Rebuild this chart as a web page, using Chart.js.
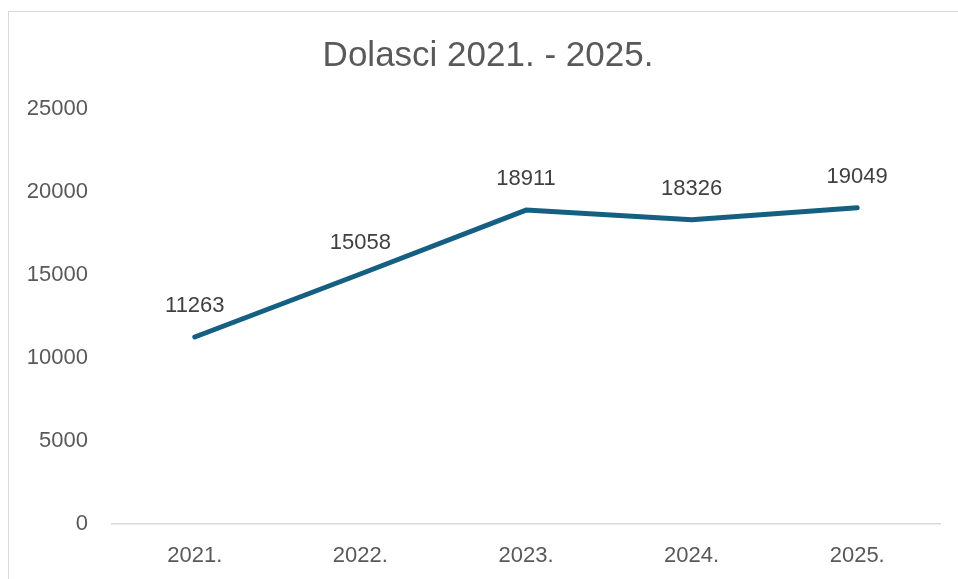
<!DOCTYPE html>
<html>
<head>
<meta charset="utf-8">
<script src="https://cdn.jsdelivr.net/npm/chart.js@4.4.1/dist/chart.umd.min.js"></script>
<style>
  html, body { margin: 0; padding: 0; background: #ffffff; overflow: hidden; }
  #frame { position: absolute; left: 8px; top: 11px; width: 1000px; height: 620px; border: 1px solid #d9d9d9; box-sizing: border-box; }
  #wrap { position: absolute; left: 0; top: 0; width: 958px; height: 579px; }
</style>
</head>
<body>
<div id="frame"></div>
<div id="wrap"><canvas id="c" width="958" height="579"></canvas></div>
<script>
const chartTitle = "Dolasci 2021. - 2025.";
const categories = ["2021.", "2022.", "2023.", "2024.", "2025."];
const arrivals = [11263, 15058, 18911, 18326, 19049];
const yTicks = [0, 5000, 10000, 15000, 20000, 25000];

const FONT = "'Liberation Sans', Arial, sans-serif";

const dataLabels = {
  id: 'dataLabels',
  afterDatasetsDraw(chart) {
    const ctx = chart.ctx;
    const meta = chart.getDatasetMeta(0);
    ctx.save();
    ctx.font = "22px " + FONT;
    ctx.fillStyle = "#404040";
    ctx.textAlign = "center";
    ctx.textBaseline = "middle";
    meta.data.forEach((pt, i) => {
      ctx.fillText(String(chart.data.datasets[0].data[i]), pt.x, pt.y - 31);
    });
    ctx.restore();
  }
};

const titleDraw = {
  id: 'titleDraw',
  afterDraw(chart) {
    const ctx = chart.ctx;
    ctx.save();
    ctx.font = "35px " + FONT;
    ctx.fillStyle = "#595959";
    ctx.textAlign = "center";
    ctx.textBaseline = "middle";
    ctx.fillText(chartTitle, 488, 56);
    ctx.restore();
  }
};

new Chart(document.getElementById('c'), {
  type: 'line',
  data: {
    labels: categories,
    datasets: [{
      data: arrivals,
      borderColor: '#156082',
      borderWidth: 5,
      borderCapStyle: 'round',
      borderJoinStyle: 'round',
      pointRadius: 0,
      pointHoverRadius: 0,
      tension: 0,
      fill: false
    }]
  },
  options: {
    responsive: false,
    animation: false,
    devicePixelRatio: 1,
    layout: { padding: { left: 0, right: 18, top: 109, bottom: 0 } },
    plugins: {
      legend: { display: false },
      tooltip: { enabled: false },
      title: { display: false }
    },
    scales: {
      x: {
        offset: true,
        grid: { display: false, drawTicks: false },
        border: { display: true, color: '#d9d9d9', width: 1.5 },
        ticks: { color: '#595959', font: { family: FONT, size: 22 }, padding: 19, maxRotation: 0 },
        afterFit(s) { s.height = 55; }
      },
      y: {
        min: 0,
        max: 25000,
        grid: { display: false, drawTicks: false },
        border: { display: false },
        afterBuildTicks(s) { s.ticks = yTicks.map(v => ({ value: v })); },
        ticks: { color: '#595959', font: { family: FONT, size: 22 }, padding: 24, callback: (v) => String(v) },
        afterFit(s) { s.width = 112; }
      }
    }
  },
  plugins: [dataLabels, titleDraw]
});
</script>
</body>
</html>
